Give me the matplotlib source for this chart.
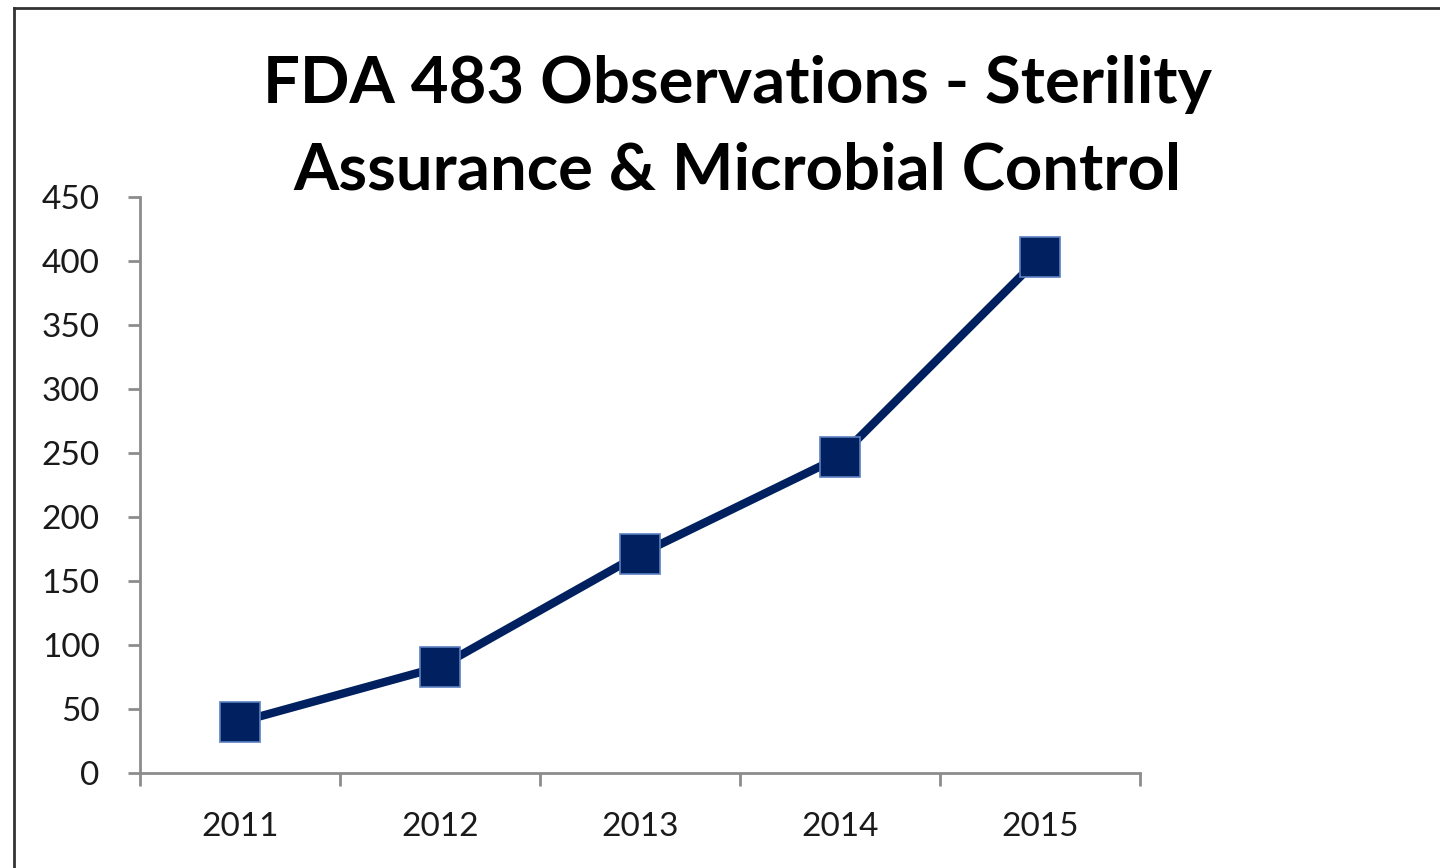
import matplotlib.pyplot as plt
from matplotlib.lines import Line2D
from matplotlib.ticker import FixedLocator

years = ['2011', '2012', '2013', '2014', '2015']
observations = [40, 83, 171, 247, 403]
y_ticks = [0, 50, 100, 150, 200, 250, 300, 350, 400, 450]

plt.rcParams['font.family'] = ['Lato', 'DejaVu Sans']

fig = plt.figure(figsize=(14.4, 8.68), dpi=100)
ax = fig.add_axes([0.0972, 0.1094, 0.6944, 0.6637])

x = list(range(len(years)))
ax.plot(x, observations, color='#002060', lw=6, marker='s', markersize=29,
        markerfacecolor='#002060', markeredgecolor='#5b7fbf', markeredgewidth=1.2,
        solid_capstyle='butt', zorder=3)

ax.set_xlim(-0.5, len(years) - 0.5)
ax.set_ylim(0, 450)
ax.set_yticks(y_ticks)
ax.set_yticklabels([str(v) for v in y_ticks])
ax.set_xticks(x)
ax.set_xticklabels(years)
ax.xaxis.set_minor_locator(FixedLocator([i - 0.5 for i in range(len(years) + 1)]))

axis_grey = '#8c8c8c'
for side in ['top', 'right']:
    ax.spines[side].set_visible(False)
for side in ['left', 'bottom']:
    ax.spines[side].set_color(axis_grey)
    ax.spines[side].set_linewidth(2)

ax.tick_params(axis='y', direction='out', length=9, width=2, color=axis_grey,
               labelsize=24, pad=20, labelcolor='#1a1a1a')
ax.tick_params(axis='x', which='major', length=0, labelsize=24, pad=28,
               labelcolor='#1a1a1a')
ax.tick_params(axis='x', which='minor', direction='out', length=9, width=2,
               color=axis_grey)

fig.text(0.512, 0.903, 'FDA 483 Observations - Sterility',
         ha='center', va='center', fontsize=47, fontweight='bold')
fig.text(0.512, 0.803, 'Assurance & Microbial Control',
         ha='center', va='center', fontsize=47, fontweight='bold')

# frame around the chart (only left and top edges are visible)
fig.add_artist(Line2D([0.0097, 0.0097], [0.0, 0.9908], transform=fig.transFigure,
                      color='#333333', lw=2))
fig.add_artist(Line2D([0.0097, 1.0], [0.9908, 0.9908], transform=fig.transFigure,
                      color='#333333', lw=2))

fig.savefig('out.png', dpi=100, facecolor='white')
